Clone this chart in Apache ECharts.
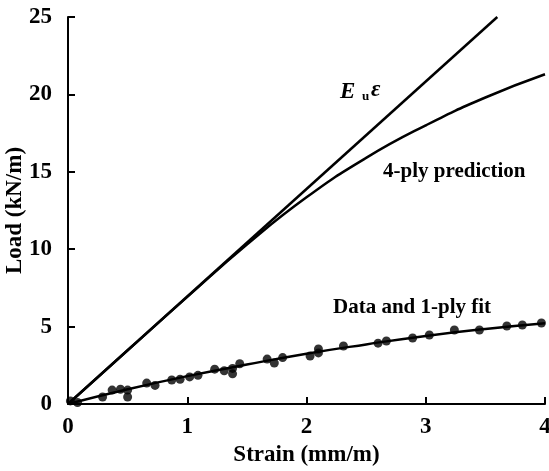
<!DOCTYPE html>
<html>
<head>
<meta charset="utf-8">
<script src="https://cdn.jsdelivr.net/npm/echarts@6/dist/echarts.min.js"></script>
<style>html,body{margin:0;padding:0;background:#fff}#c{width:549px;height:471px}</style>
</head>
<body>
<div id="c"></div>
<script>
// Strain (mm/m) sample points for the curves
var curveStrain = [0, 0.5, 1, 1.5, 2, 2.5, 3, 3.5, 4];
// E_u * epsilon line (straight)
var euStrain = [0, 3.6];
var euLoad = [0, 25];
// 4-ply prediction (kN/m)
var fourPly = [0, 3.47, 6.92, 10.3, 13.35, 15.9, 18.0, 19.8, 21.3];
// 1-ply fit (kN/m)
var onePly = [0, 0.95, 1.8, 2.55, 3.25, 3.85, 4.4, 4.85, 5.22];
// Measured data
var dataStrain = [0.02, 0.08, 0.29, 0.37, 0.44, 0.5, 0.5, 0.66, 0.73, 0.87, 0.94, 1.02, 1.09, 1.23, 1.31, 1.38, 1.38, 1.44, 1.67, 1.73, 1.8, 2.03, 2.1, 2.1, 2.31, 2.6, 2.67, 2.89, 3.03, 3.24, 3.45, 3.68, 3.81, 3.97];
var dataLoad = [0.2, 0.1, 0.45, 0.9, 0.95, 0.9, 0.45, 1.35, 1.2, 1.55, 1.6, 1.75, 1.85, 2.25, 2.15, 2.3, 1.95, 2.6, 2.9, 2.65, 3.0, 3.1, 3.3, 3.55, 3.75, 3.93, 4.07, 4.26, 4.46, 4.78, 4.78, 5.04, 5.1, 5.23];
var xTicks = [0, 1, 2, 3, 4];
var yTicks = [0, 5, 10, 15, 20, 25];

function zip(a, b) { return a.map(function (v, i) { return [v, b[i]]; }); }

var font = '"Liberation Serif", "Times New Roman", serif';
var chart = echarts.init(document.getElementById('c'));
chart.setOption({
  animation: false,
  grid: { left: 68, right: 4, top: 17, bottom: 67, containLabel: false, outerBoundsMode: 'none' },
  xAxis: {
    type: 'value', min: 0, max: 4, interval: 1,
    name: 'Strain (mm/m)', nameLocation: 'middle', nameGap: 40, nameMoveOverlap: false,
    nameTextStyle: { fontFamily: font, fontWeight: 'bold', fontSize: 23, color: '#000' },
    axisLine: { lineStyle: { color: '#000', width: 2 } },
    axisTick: { inside: true, length: 7, lineStyle: { color: '#000', width: 2 } },
    axisLabel: { fontFamily: font, fontWeight: 'bold', fontSize: 23, color: '#000', margin: 12 },
    splitLine: { show: false }
  },
  yAxis: {
    type: 'value', min: 0, max: 25, interval: 5,
    name: 'Load (kN/m)', nameLocation: 'middle', nameGap: 41, nameMoveOverlap: false,
    nameTextStyle: { fontFamily: font, fontWeight: 'bold', fontSize: 23, color: '#000' },
    axisLine: { lineStyle: { color: '#000', width: 2 } },
    axisTick: { inside: true, length: 7, lineStyle: { color: '#000', width: 2 } },
    axisLabel: { fontFamily: font, fontWeight: 'bold', fontSize: 23, color: '#000', margin: 16 },
    splitLine: { show: false }
  },
  series: [
    { type: 'line', data: zip(euStrain, euLoad), showSymbol: false, lineStyle: { color: '#000', width: 2.5 }, z: 3 },
    { type: 'line', data: zip(curveStrain, fourPly), smooth: true, showSymbol: false, lineStyle: { color: '#000', width: 2.5 }, z: 3 },
    { type: 'line', data: zip(curveStrain, onePly), smooth: true, showSymbol: false, lineStyle: { color: '#000', width: 2.5 }, z: 3 },
    { type: 'scatter', data: zip(dataStrain, dataLoad), symbol: 'circle', symbolSize: 9, itemStyle: { color: '#000' }, z: 4 }
  ],
  graphic: [
    { type: 'text', left: 340, top: 81, style: { text: 'E', font: 'italic bold 23px ' + font, fill: '#000' } },
    { type: 'text', left: 362, top: 90, style: { text: 'u', font: 'bold 13px ' + font, fill: '#000' } },
    { type: 'text', left: 371, top: 79, style: { text: 'ε', font: 'italic bold 23px ' + font, fill: '#000' } },
    { type: 'text', left: 383, top: 161, style: { text: '4-ply prediction', font: 'bold 21px ' + font, fill: '#000' } },
    { type: 'text', left: 333, top: 297, style: { text: 'Data and 1-ply fit', font: 'bold 21px ' + font, fill: '#000' } }
  ]
});
</script>
</body>
</html>
